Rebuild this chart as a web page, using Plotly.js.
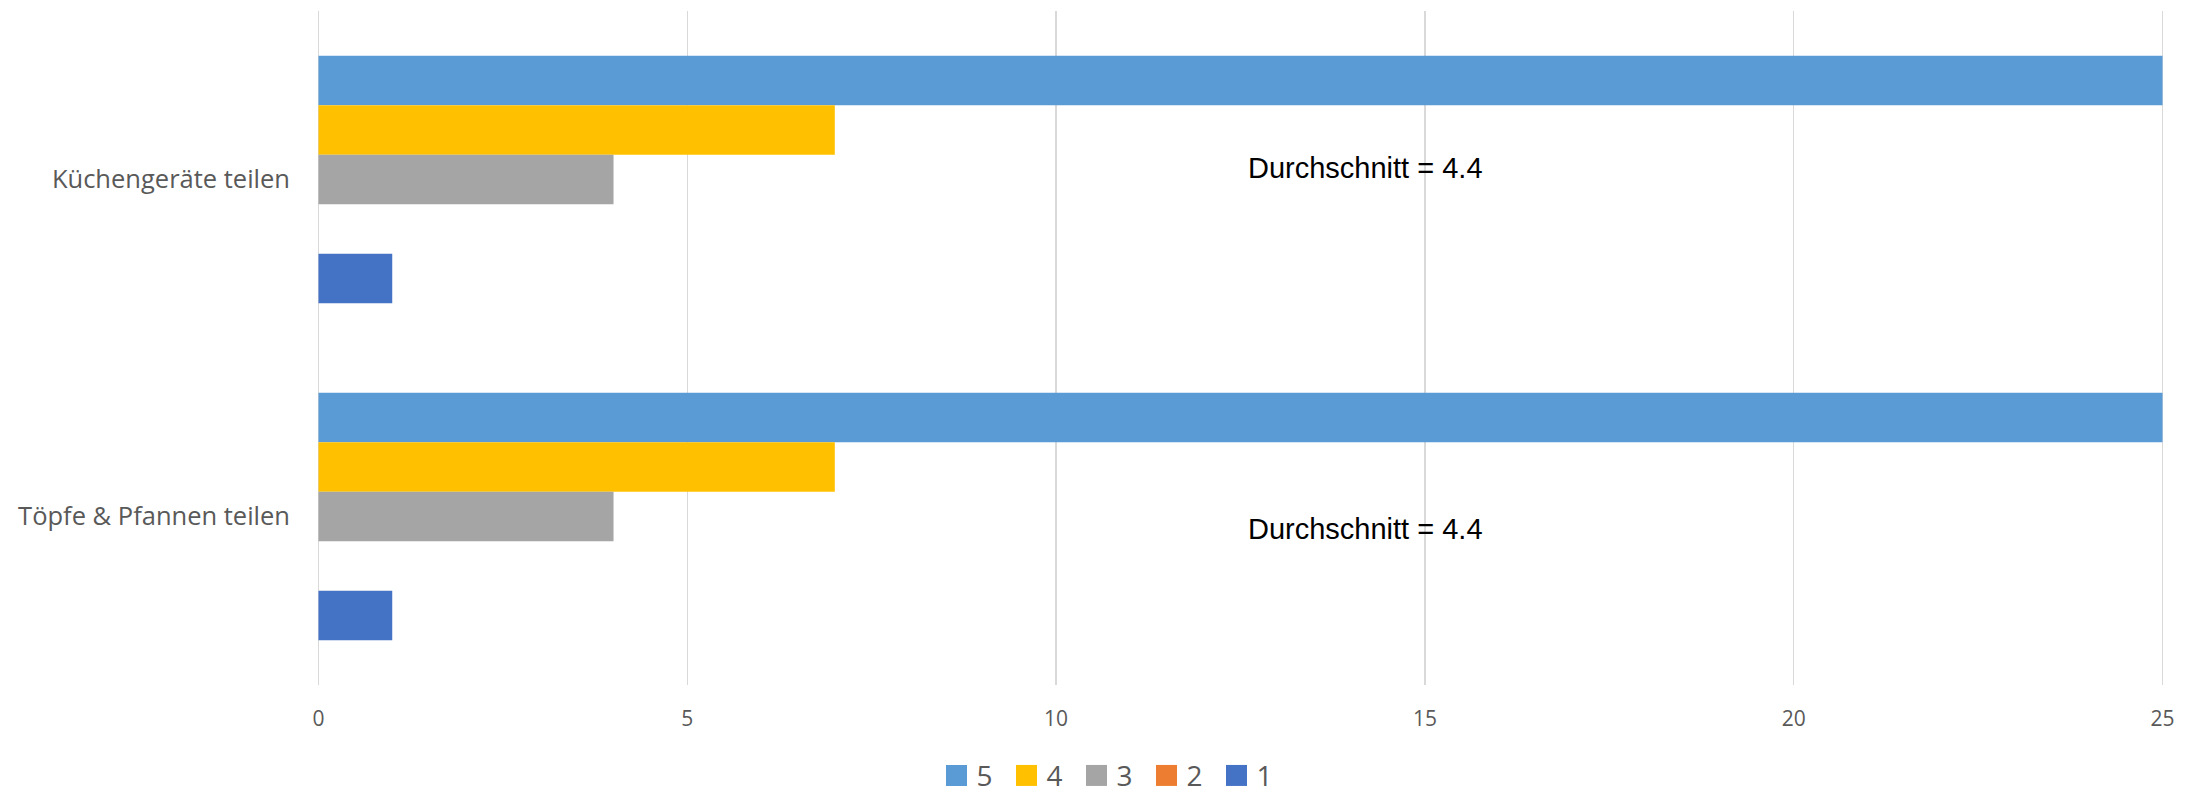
<!DOCTYPE html>
<html>
<head>
<meta charset="utf-8">
<script src="https://cdn.plot.ly/plotly-3.0.1.min.js"></script>
<style>
  html, body { margin: 0; padding: 0; background: #ffffff; }
  #chart { width: 2201px; height: 794px; }
</style>
</head>
<body>
<div id="chart"></div>
<script>
// ---- Data ----
const categories = ["Küchengeräte teilen", "Töpfe & Pfannen teilen"];
const seriesNames = ["5", "4", "3", "2", "1"];
const values5 = [25, 25];
const values4 = [7, 7];
const values3 = [4, 4];
const values2 = [0, 0];
const values1 = [1, 1];
const averages = [4.4, 4.4];
const xTicks = [0, 5, 10, 15, 20, 25];

const seriesValues = [values5, values4, values3, values2, values1];
const seriesColors = ["#5B9BD5", "#FFC000", "#A5A5A5", "#ED7D31", "#4472C4"];

const traces = seriesNames.map((name, i) => ({
  type: "bar",
  orientation: "h",
  name: name,
  y: categories,
  x: seriesValues[i],
  marker: { color: seriesColors[i], line: { width: 0 } },
  hoverinfo: "x+name"
}));

const annotations = categories.map((c, i) => ({
  xref: "x", yref: "y",
  x: 14.2,
  y: i === 0 ? -0.033 : 1.036,
  text: "Durchschnitt = " + averages[i],
  showarrow: false,
  xanchor: "center", yanchor: "middle",
  font: { family: "Liberation Sans, Arial, sans-serif", size: 29, color: "#000000" }
}));

// small padding so the gridlines at 0 and 25 are not clipped at the plot edges
const pad = 0.02;
const pxPerUnit = 1844.4 / 25;

const layout = {
  width: 2201,
  height: 794,
  paper_bgcolor: "#ffffff",
  plot_bgcolor: "#ffffff",
  margin: { l: 318.6 - pad * pxPerUnit, r: 2201 - 318.6 - 1844.4 - pad * pxPerUnit, t: 11, b: 109 },
  barmode: "group",
  bargap: 0.265,
  bargroupgap: 0,
  showlegend: true,
  legend: {
    orientation: "h",
    xref: "container", yref: "container",
    x: 0.505, xanchor: "center",
    y: 0.023, yanchor: "middle",
    entrywidth: 25,
    font: { family: "Open Sans, sans-serif", size: 28, color: "#595959" },
    traceorder: "normal"
  },
  xaxis: {
    range: [-pad, 25 + pad],
    tickvals: xTicks,
    ticktext: xTicks.map(String),
    showgrid: true,
    gridcolor: "#D9D9D9",
    gridwidth: 1.5,
    zeroline: false,
    showline: false,
    ticks: "",
    ticklabelstandoff: 19,
    tickfont: { family: "Open Sans, sans-serif", size: 21, color: "#595959" },
    fixedrange: true
  },
  yaxis: {
    type: "category",
    autorange: "reversed",
    showgrid: false,
    zeroline: false,
    showline: false,
    ticks: "",
    ticklabelstandoff: 26,
    tickfont: { family: "Open Sans, sans-serif", size: 25.5, color: "#595959" },
    fixedrange: true
  },
  annotations: annotations
};

Plotly.newPlot("chart", traces, layout, { displayModeBar: false, staticPlot: true }).then(() => {
  document.querySelectorAll("#chart .legend .legendpoints path").forEach(p => {
    const t = p.getAttribute("transform") || "";
    p.setAttribute("transform", t + " scale(1.75)");
  });
});
</script>
</body>
</html>
